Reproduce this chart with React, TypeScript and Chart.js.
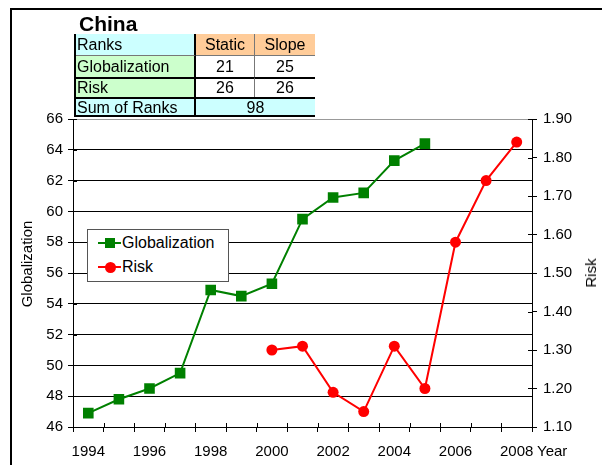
import React, { useEffect, useRef } from 'react';
import { Chart, registerables } from 'chart.js';

Chart.register(...registerables);

// ---- data ----
const years = ['1994', '1995', '1996', '1997', '1998', '1999', '2000', '2001', '2002', '2003', '2004', '2005', '2006', '2007', '2008'];
const globalization = [46.9, 47.8, 48.5, 49.5, 54.9, 54.5, 55.3, 59.5, 60.9, 61.2, 63.3, 64.4, null, null, null];
const risk = [null, null, null, null, null, null, 1.30, 1.31, 1.19, 1.14, 1.31, 1.20, 1.58, 1.74, 1.84];
const leftMin = 46;
const leftMax = 66;
const leftStep = 2;
const rightMin = 1.1;
const rightMax = 1.9;
const rightStep = 0.1;

const tableTitle = 'China';
const rankHeader = ['Ranks', 'Static', 'Slope'];
const globalizationRanks = ['Globalization', '21', '25'];
const riskRanks = ['Risk', '26', '26'];
const sumLabel = 'Sum of Ranks';
const sumValue = '98';

const FONT = "'Liberation Sans', Arial, Helvetica, sans-serif";
const GREEN = '#008000';
const RED = '#ff0000';

const innerTicks = {
  id: 'innerTicks',
  afterDraw(chart: any) {
    const { ctx, chartArea: a, scales } = chart;
    ctx.save();
    ctx.strokeStyle = '#000';
    ctx.lineWidth = 1;
    ctx.beginPath();
    scales.y.ticks.forEach((t: any) => {
      const y = Math.round(scales.y.getPixelForValue(t.value)) + 0.5;
      ctx.moveTo(a.left, y);
      ctx.lineTo(a.left + 4, y);
    });
    scales.y1.ticks.forEach((t: any) => {
      const y = Math.round(scales.y1.getPixelForValue(t.value)) + 0.5;
      ctx.moveTo(a.right - 4, y);
      ctx.lineTo(a.right, y);
    });
    const n = years.length;
    for (let i = 0; i <= n; i++) {
      const x = Math.round(a.left + ((a.right - a.left) * i) / n) + 0.5;
      ctx.moveTo(x, a.bottom - 4);
      ctx.lineTo(x, a.bottom);
    }
    ctx.stroke();
    ctx.restore();
  },
};

const tickFont = { family: FONT, size: 15 };

function ChartCanvas() {
  const ref = useRef<HTMLCanvasElement | null>(null);
  useEffect(() => {
    if (!ref.current) return;
    const chart = new Chart(ref.current, {
      type: 'line',
      data: {
        labels: years,
        datasets: [
          {
            label: 'Globalization',
            data: globalization,
            yAxisID: 'y',
            borderColor: GREEN,
            backgroundColor: GREEN,
            pointBackgroundColor: GREEN,
            pointBorderColor: GREEN,
            pointStyle: 'rect',
            pointRadius: 7.5,
            pointBorderWidth: 0,
            borderWidth: 2,
            tension: 0,
            spanGaps: false,
          },
          {
            label: 'Risk',
            data: risk,
            yAxisID: 'y1',
            borderColor: RED,
            backgroundColor: RED,
            pointBackgroundColor: RED,
            pointBorderColor: RED,
            pointStyle: 'circle',
            pointRadius: 5.5,
            pointBorderWidth: 0,
            borderWidth: 2,
            tension: 0,
            spanGaps: false,
          },
        ],
      },
      options: {
        animation: false,
        responsive: false,
        maintainAspectRatio: false,
        layout: { padding: { top: 119, left: 0, right: 0, bottom: 0 } },
        plugins: { legend: { display: false }, tooltip: { enabled: false } },
        scales: {
          x: {
            type: 'category',
            offset: true,
            grid: { offset: true, drawOnChartArea: false, color: '#000', tickColor: '#000', tickLength: 5 },
            border: { color: '#000', width: 1 },
            ticks: {
              autoSkip: false,
              maxRotation: 0,
              minRotation: 0,
              color: '#000',
              font: tickFont,
              padding: 11,
              callback: (_v: any, i: number) => (i % 2 === 0 ? years[i] : ''),
            },
            afterFit: (s: any) => {
              s.height = 38;
            },
          },
          y: {
            position: 'left',
            min: leftMin,
            max: leftMax,
            ticks: { stepSize: leftStep, color: '#000', font: tickFont, padding: 5 },
            grid: {
              color: (c: any) => (c.tick && c.tick.value === leftMax ? '#999' : '#000'),
              tickColor: '#000',
              tickLength: 5,
              lineWidth: 1,
            },
            border: { color: '#000', width: 1 },
            afterFit: (s: any) => {
              s.width = 73;
            },
          },
          y1: {
            position: 'right',
            min: rightMin,
            max: rightMax,
            ticks: {
              stepSize: rightStep,
              color: '#000',
              font: tickFont,
              padding: 6,
              callback: (v: any) => Number(v).toFixed(2),
            },
            grid: { drawOnChartArea: false, color: '#000', tickColor: '#000', tickLength: 5 },
            border: { color: '#000', width: 1 },
            afterFit: (s: any) => {
              s.width = 70;
            },
          },
        },
      },
      plugins: [innerTicks],
    } as any);
    return () => chart.destroy();
  }, []);
  return <canvas ref={ref} width={602} height={465} style={{ position: 'absolute', left: 0, top: 0, width: 602, height: 465 }} />;
}

const colEdges = [75, 196, 255, 315];
const rowEdges = [34, 55, 77, 97, 116];

function Cell(props: { x0: number; x1: number; y0: number; y1: number; bg: string; text: string; align: 'left' | 'center'; borderTop?: string; borderRight?: string }) {
  const { x0, x1, y0, y1, bg, text, align, borderTop, borderRight } = props;
  return (
    <div
      style={{
        position: 'absolute',
        left: x0,
        top: y0,
        width: x1 - x0,
        height: y1 - y0,
        background: bg,
        boxSizing: 'border-box',
        borderTop: borderTop || 'none',
        borderRight: borderRight || 'none',
        display: 'flex',
        alignItems: 'center',
        justifyContent: align === 'left' ? 'flex-start' : 'center',
        paddingLeft: align === 'left' ? 2 : 0,
        fontFamily: FONT,
        fontSize: 16,
        color: '#000',
        whiteSpace: 'nowrap',
        lineHeight: '1',
      }}
    >
      {text}
    </div>
  );
}

function RankTable() {
  const CY = '#ccffff';
  const OR = '#ffcc99';
  const GR = '#ccffcc';
  const WH = '#ffffff';
  const thin = '1px solid #777';
  const thick = '2px solid #000';
  const rows = [rankHeader, globalizationRanks, riskRanks];
  const bgs = [
    [CY, OR, OR],
    [GR, WH, WH],
    [GR, WH, WH],
  ];
  const tops = [undefined, thin, thick];
  const cells: any[] = [];
  rows.forEach((r, ri) => {
    r.forEach((t, ci) => {
      cells.push(
        <Cell
          key={`${ri}-${ci}`}
          x0={colEdges[ci]}
          x1={colEdges[ci + 1]}
          y0={rowEdges[ri]}
          y1={rowEdges[ri + 1]}
          bg={bgs[ri][ci]}
          text={t}
          align={ci === 0 ? 'left' : 'center'}
          borderTop={tops[ri]}
          borderRight={ci === 0 ? thick : ci === 1 ? thin : undefined}
        />
      );
    });
  });
  cells.push(
    <Cell key="s0" x0={colEdges[0]} x1={colEdges[1]} y0={rowEdges[3]} y1={rowEdges[4]} bg={CY} text={sumLabel} align="left" borderTop={thick} borderRight={thick} />
  );
  cells.push(
    <Cell key="s1" x0={colEdges[1]} x1={colEdges[3]} y0={rowEdges[3]} y1={rowEdges[4]} bg={CY} text={sumValue} align="center" borderTop={thick} />
  );
  return (
    <>
      <div style={{ position: 'absolute', left: 79, top: 12, fontFamily: FONT, fontWeight: 'bold', fontSize: 21, lineHeight: '24px', color: '#000' }}>{tableTitle}</div>
      {cells}
      <div style={{ position: 'absolute', left: colEdges[0] - 1, top: rowEdges[0], width: 2, height: rowEdges[4] - rowEdges[0], background: '#000' }} />
      <div style={{ position: 'absolute', left: colEdges[0] - 1, top: rowEdges[4] - 1, width: colEdges[3] - colEdges[0] + 1, height: 2, background: '#000' }} />
    </>
  );
}

function Legend() {
  const items = [
    { label: 'Globalization', color: GREEN, shape: 'square' },
    { label: 'Risk', color: RED, shape: 'circle' },
  ];
  return (
    <div
      style={{
        position: 'absolute',
        left: 87,
        top: 229,
        width: 142,
        height: 53,
        boxSizing: 'border-box',
        border: '1px solid #555',
        background: '#fff',
      }}
    >
      {items.map((it, i) => (
        <div key={it.label} style={{ position: 'absolute', left: 0, top: 13 + i * 24, width: 140, height: 0 }}>
          <div style={{ position: 'absolute', left: 10, top: -1, width: 23, height: 2, background: it.color }} />
          <div
            style={{
              position: 'absolute',
              left: it.shape === 'square' ? 17 : 16.5,
              top: -5,
              width: it.shape === 'square' ? 10 : 11,
              height: it.shape === 'square' ? 10 : 11,
              borderRadius: it.shape === 'circle' ? '50%' : 0,
              background: it.color,
            }}
          />
          <div style={{ position: 'absolute', left: 34, top: -9, fontFamily: FONT, fontSize: 16, lineHeight: '18px', color: '#000', whiteSpace: 'nowrap' }}>{it.label}</div>
        </div>
      ))}
    </div>
  );
}

export default function App() {
  return (
    <div style={{ position: 'fixed', left: 0, top: 0, width: 602, height: 465, overflow: 'hidden', background: '#fff' }}>
      <ChartCanvas />
      <div style={{ position: 'absolute', left: 10, top: 8, width: 600, height: 2, background: '#000' }} />
      <div style={{ position: 'absolute', left: 10, top: 8, width: 2, height: 460, background: '#000' }} />
      <RankTable />
      <Legend />
      <div
        style={{
          position: 'absolute',
          left: 27,
          top: 264,
          transform: 'translate(-50%, -50%) rotate(-90deg)',
          fontFamily: FONT,
          fontSize: 15,
          color: '#000',
          whiteSpace: 'nowrap',
          lineHeight: '18px',
        }}
      >
        Globalization
      </div>
      <div
        style={{
          position: 'absolute',
          left: 591,
          top: 273,
          transform: 'translate(-50%, -50%) rotate(-90deg)',
          fontFamily: FONT,
          fontSize: 15,
          color: '#000',
          whiteSpace: 'nowrap',
          lineHeight: '18px',
        }}
      >
        Risk
      </div>
      <div style={{ position: 'absolute', left: 537, top: 442, fontFamily: FONT, fontSize: 15, color: '#000', lineHeight: '18px' }}>Year</div>
    </div>
  );
}
